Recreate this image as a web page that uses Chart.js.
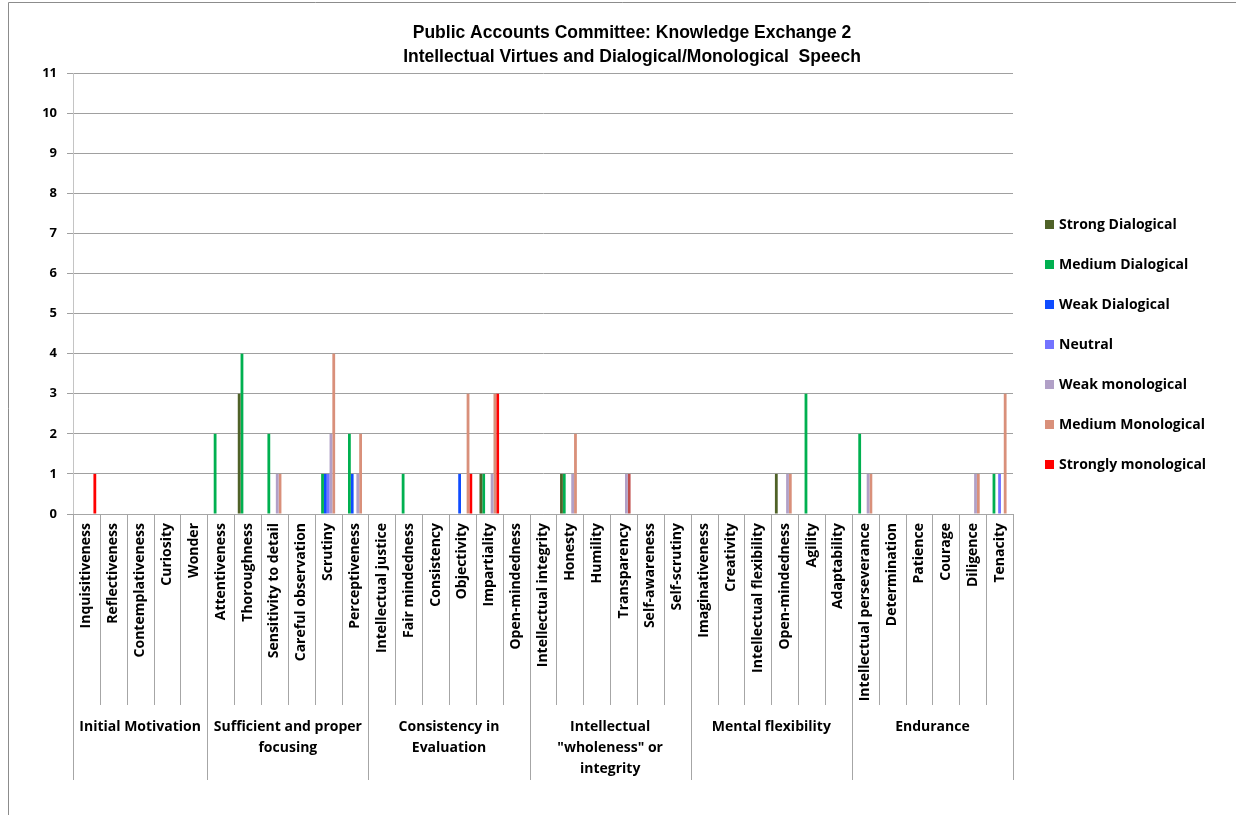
<!DOCTYPE html>
<html>
<head>
<meta charset="utf-8">
<script src="https://cdn.jsdelivr.net/npm/chart.js@4.4.0/dist/chart.umd.min.js"></script>
<style>
  html, body { margin: 0; padding: 0; background: #fff; }
  #wrap { position: relative; width: 1236px; height: 815px; }
</style>
</head>
<body>
<div id="wrap"><canvas id="virtuesChart" width="1236" height="815"></canvas></div>
<script>
const chartTitle = ['Public Accounts Committee: Knowledge Exchange 2', 'Intellectual Virtues and Dialogical/Monological  Speech'];

const categories = [
  'Inquisitiveness', 'Reflectiveness', 'Contemplativeness', 'Curiosity', 'Wonder',
  'Attentiveness', 'Thoroughness', 'Sensitivity to detail', 'Careful observation', 'Scrutiny', 'Perceptiveness',
  'Intellectual justice', 'Fair mindedness', 'Consistency', 'Objectivity', 'Impartiality', 'Open-mindedness',
  'Intellectual integrity', 'Honesty', 'Humility', 'Transparency', 'Self-awareness', 'Self-scrutiny',
  'Imaginativeness', 'Creativity', 'Intellectual flexibility', 'Open-mindedness', 'Agility', 'Adaptability',
  'Intellectual perseverance', 'Determination', 'Patience', 'Courage', 'Diligence', 'Tenacity'
];

const groupNames = [
  ['Initial Motivation'],
  ['Sufficient and proper', 'focusing'],
  ['Consistency in', 'Evaluation'],
  ['Intellectual', '"wholeness" or', 'integrity'],
  ['Mental flexibility'],
  ['Endurance']
];
const groupSizes = [5, 6, 6, 6, 6, 6];

const seriesNames = [
  'Strong Dialogical', 'Medium Dialogical', 'Weak Dialogical', 'Neutral',
  'Weak monological', 'Medium Monological', 'Strongly monological'
];
const seriesColors = ['#4F6228', '#00B050', '#0F4CFF', '#7373FF', '#B1A0C7', '#D9907A', '#FF0000'];

//                        Initial Motivation | Sufficient focusing  | Consistency          | Wholeness            | Mental flexibility   | Endurance
const strongDialogical   = [0, 0, 0, 0, 0,   0, 3, 0, 0, 0, 0,    0, 0, 0, 0, 1, 0,    0, 1, 0, 0, 0, 0,    0, 0, 0, 1, 0, 0,    0, 0, 0, 0, 0, 0];
const mediumDialogical   = [0, 0, 0, 0, 0,   2, 4, 2, 0, 1, 2,    0, 1, 0, 0, 1, 0,    0, 1, 0, 0, 0, 0,    0, 0, 0, 0, 3, 0,    2, 0, 0, 0, 0, 1];
const weakDialogical     = [0, 0, 0, 0, 0,   0, 0, 0, 0, 1, 1,    0, 0, 0, 1, 0, 0,    0, 0, 0, 0, 0, 0,    0, 0, 0, 0, 0, 0,    0, 0, 0, 0, 0, 0];
const neutral            = [0, 0, 0, 0, 0,   0, 0, 0, 0, 1, 0,    0, 0, 0, 0, 0, 0,    0, 0, 0, 0, 0, 0,    0, 0, 0, 0, 0, 0,    0, 0, 0, 0, 0, 1];
const weakMonological    = [0, 0, 0, 0, 0,   0, 0, 1, 0, 2, 1,    0, 0, 0, 0, 1, 0,    0, 1, 0, 1, 0, 0,    0, 0, 0, 1, 0, 0,    1, 0, 0, 0, 1, 0];
const mediumMonological  = [0, 0, 0, 0, 0,   0, 0, 1, 0, 4, 2,    0, 0, 0, 3, 3, 0,    0, 2, 0, 1, 0, 0,    0, 0, 0, 1, 0, 0,    1, 0, 0, 0, 1, 3];
const strongMonological  = [1, 0, 0, 0, 0,   0, 0, 0, 0, 0, 0,    0, 0, 0, 1, 3, 0,    0, 0, 0, 0, 0, 0,    0, 0, 0, 0, 0, 0,    0, 0, 0, 0, 0, 0];

const yTicks = [0, 1, 2, 3, 4, 5, 6, 7, 8, 9, 10, 11];

const seriesValues = [
  strongDialogical, mediumDialogical, weakDialogical, neutral,
  weakMonological, mediumMonological, strongMonological
];

const boldFont = (size) => ({ family: "'Open Sans', 'Liberation Sans', sans-serif", size: size, weight: 'bold' });

// Transparency's medium monological bar is shaded a darker red
const transparencyIndex = categories.indexOf('Transparency');
const barColors = seriesColors.map((c, s) =>
  s === 5 ? categories.map((_, i) => (i === transparencyIndex ? '#C0504D' : c)) : c
);

const datasets = seriesNames.map((name, s) => ({
  label: name,
  data: seriesValues[s],
  backgroundColor: barColors[s],
  borderWidth: 0,
  categoryPercentage: 0.73,
  barPercentage: 1.0
}));

// title, separators, group captions, legend and outer frame
const axisExtras = {
  id: 'axisExtras',
  afterDraw(chart) {
    const ctx = chart.ctx;
    const x = chart.scales.x;
    const area = chart.chartArea;
    const step = x.getPixelForValue(1) - x.getPixelForValue(0);
    const left0 = x.getPixelForValue(0) - step / 2;
    const catBottom = area.bottom + 191;
    const groupBottom = area.bottom + 266;

    const groupEdges = [0];
    groupSizes.forEach(n => groupEdges.push(groupEdges[groupEdges.length - 1] + n));

    ctx.save();
    ctx.fillStyle = '#000';
    ctx.textAlign = 'center';
    ctx.textBaseline = 'middle';
    ctx.font = "bold 17.5px 'Liberation Sans', sans-serif";
    chartTitle.forEach((line, k) => ctx.fillText(line, 632, 33 + k * 24));

    ctx.strokeStyle = '#A6A6A6';
    ctx.lineWidth = 1;
    for (let i = 0; i <= categories.length; i++) {
      const px = Math.round(left0 + i * step) + 0.5;
      ctx.beginPath();
      ctx.moveTo(px, area.bottom);
      ctx.lineTo(px, groupEdges.includes(i) ? groupBottom : catBottom);
      ctx.stroke();
    }

    ctx.font = "bold 14px 'Open Sans', 'Liberation Sans', sans-serif";
    groupNames.forEach((lines, g) => {
      const cx = left0 + (groupEdges[g] + groupEdges[g + 1]) / 2 * step;
      lines.forEach((line, k) => ctx.fillText(line, cx, area.bottom + 213 + k * 21));
    });

    // legend on the right
    ctx.textAlign = 'left';
    seriesNames.forEach((name, s) => {
      const cy = 225 + s * 40;
      ctx.fillStyle = seriesColors[s];
      ctx.fillRect(1045, cy - 5, 9, 9);
      ctx.fillStyle = '#000';
      ctx.fillText(name, 1059, cy);
    });

    // chart frame
    ctx.strokeStyle = '#8C8C8C';
    ctx.beginPath();
    ctx.moveTo(8.5, chart.height);
    ctx.lineTo(8.5, 2.5);
    ctx.lineTo(chart.width, 2.5);
    ctx.stroke();
    ctx.restore();
  }
};

new Chart(document.getElementById('virtuesChart'), {
  type: 'bar',
  data: {
    labels: categories,
    datasets: datasets
  },
  options: {
    responsive: false,
    animation: false,
    layout: { padding: { left: 0, right: 223, top: 73, bottom: 35 } },
    plugins: {
      legend: { display: false },
      tooltip: { enabled: false },
      title: { display: false }
    },
    scales: {
      x: {
        grid: { display: false, drawTicks: false },
        border: { color: '#A6A6A6' },
        ticks: {
          color: '#000',
          font: boldFont(14),
          autoSkip: false,
          minRotation: 90,
          maxRotation: 90,
          padding: 9
        },
        afterFit(scale) { scale.height = 266; }
      },
      y: {
        min: 0,
        max: 11,
        afterBuildTicks(scale) { scale.ticks = yTicks.map(v => ({ value: v })); },
        grid: { color: '#A0A0A0', tickLength: 6 },
        border: { color: '#C4C4C4' },
        ticks: { color: '#000', font: boldFont(13), padding: 10 },
        afterFit(scale) { scale.width = 73; }
      }
    }
  },
  plugins: [axisExtras]
});
</script>
</body>
</html>
